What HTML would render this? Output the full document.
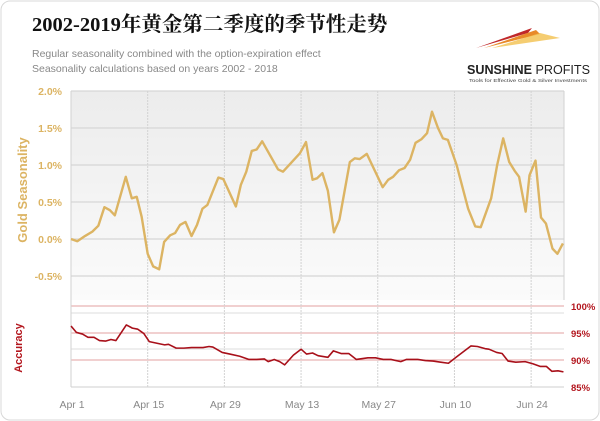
<!DOCTYPE html>
<html><head><meta charset="utf-8"><style>
html,body{margin:0;padding:0;background:#fff;}
svg{display:block;font-family:"Liberation Sans",sans-serif;}
</style></head><body>
<svg width="600" height="421" viewBox="0 0 600 421">
<defs><linearGradient id="bg" x1="0" y1="0" x2="0" y2="1"><stop offset="0" stop-color="#ececec"/><stop offset="1" stop-color="#fbfbfb"/></linearGradient></defs>
<rect x="1" y="1" width="598" height="419" rx="9" fill="#fff" stroke="#d8d8d8"/>
<text x="32" y="31" font-family="'Liberation Serif','Noto Serif CJK SC',serif" font-size="20.5" font-weight="bold" fill="#111">2002-2019年黄金第二季度的季节性走势</text>
<text x="32" y="57" font-size="10.5" fill="#888">Regular seasonality combined with the option-expiration effect</text>
<text x="32" y="72" font-size="10.5" fill="#888">Seasonality calculations based on years 2002 - 2018</text>
<g>
<path d="M476 48 L532 28 L528 33 Z" fill="#c0282a"/>
<path d="M484 48 L536 30 L540 34 Z" fill="#e88a2a"/>
<path d="M492 48 L540 33 L560 38 Z" fill="#f2c14e" opacity="0.8"/>
<text x="467" y="74" font-size="12.5" font-weight="bold" fill="#222" textLength="123" lengthAdjust="spacingAndGlyphs">SUNSHINE <tspan font-weight="normal">PROFITS</tspan></text>
<text x="469" y="82" font-size="4.6" fill="#444" textLength="118" lengthAdjust="spacingAndGlyphs">Tools for Effective Gold &amp; Silver Investments</text>
</g>
<rect x="71" y="91" width="493" height="209" fill="url(#bg)"/>
<g id="grid"></g>
<g id="marks"></g>
<text transform="translate(27,190) rotate(-90)" text-anchor="middle" font-size="13" font-weight="bold" fill="#dcb463">Gold Seasonality</text>
<text transform="translate(22,348) rotate(-90)" text-anchor="middle" font-size="11" font-weight="bold" fill="#b3161e">Accuracy</text>
</svg>
<script>
const xTickLabels=["Apr 1","Apr 15","Apr 29","May 13","May 27","Jun 10","Jun 24"];
const xTickDays=[0,14,28,42,56,70,84];
const seasTicks=[2.0,1.5,1.0,0.5,0.0,-0.5];
const seasTickLabels=["2.0%","1.5%","1.0%","0.5%","0.0%","-0.5%"];
const accTicks=[100,95,90,85];
const accTickLabels=["100%","95%","90%","85%"];
const goldDays=[0,1.15,2.55,3.9,5,6.1,7.1,8,10,11.1,12,12.9,14,15,16.1,17,18.1,19,19.9,20.9,22,23,24,24.9,26.9,27.8,30.1,31,32,33,33.9,34.9,37.8,38.7,41.8,42.9,44.1,44.9,45.9,46.9,48,49,50.9,51.8,52.7,54,56.9,57.9,58.8,59.9,60.9,61.9,62.9,64,65,65.9,67,67.9,68.8,70.4,72.5,73.8,74.8,76.7,77.8,78.9,80,81,81.8,83,83.7,84.8,85.8,86.7,87.9,88.8,89.8];
const goldValues=[0,-0.03,0.04,0.1,0.18,0.43,0.39,0.32,0.84,0.55,0.57,0.3,-0.2,-0.37,-0.41,-0.04,0.05,0.08,0.19,0.23,0.04,0.19,0.41,0.46,0.83,0.81,0.44,0.73,0.91,1.19,1.21,1.32,0.94,0.91,1.16,1.31,0.8,0.82,0.89,0.65,0.09,0.26,1.04,1.09,1.08,1.15,0.7,0.8,0.84,0.93,0.96,1.07,1.3,1.35,1.43,1.72,1.5,1.36,1.34,1.0,0.41,0.17,0.16,0.55,1.0,1.36,1.04,0.92,0.84,0.37,0.86,1.06,0.29,0.21,-0.13,-0.2,-0.06];
const accDays=[0,1,2.1,3.1,4.2,5.2,6.3,7.3,8.2,10.1,11.2,12.2,13.3,14.3,15.7,17.1,17.8,19.2,20.6,22,23.4,24.1,25.2,25.9,27.6,29,30.8,32.5,33.9,35.3,36,37.1,38.1,39,40.6,42,43,44.1,45.1,46.9,47.9,49.3,50.7,52.1,54.2,55.6,57,58.4,60.2,61.2,63.3,64.7,66.1,67.5,68.9,70.3,73,74.2,75.6,76.3,77.7,78.7,79.8,81.2,82.9,84.3,85.7,86.8,87.8,88.9,89.9];
const accValues=[96.3,95.1,94.8,94.2,94.2,93.6,93.5,93.8,93.6,96.5,95.9,95.7,94.9,93.4,93.1,92.8,92.9,92.2,92.2,92.3,92.3,92.3,92.5,92.4,91.4,91.1,90.7,90.1,90.1,90.2,89.7,90.1,89.7,89.1,90.9,92.0,91.1,91.3,90.8,90.5,91.7,91.2,91.2,90.1,90.4,90.4,90.1,90.1,89.7,90.1,90.1,89.9,89.8,89.6,89.4,90.5,92.6,92.5,92.1,92.0,91.4,91.2,89.8,89.6,89.7,89.3,88.8,88.8,87.9,88.0,87.8];
const NS="http://www.w3.org/2000/svg";
const X0=71,X1=564,DMAX=90;
const xs=d=>X0+d/DMAX*(X1-X0);
const ys=v=>239-v/0.5*37;
const ya=v=>306+(100-v)/5*27;
const grid=document.getElementById('grid'),marks=document.getElementById('marks');
function mk(tag,attrs,parent){const e=document.createElementNS(NS,tag);for(const k in attrs)e.setAttribute(k,attrs[k]);parent.appendChild(e);return e;}
seasTicks.forEach((t,i)=>{
 const l=mk('line',{x1:X0,x2:X1,y1:ys(t),y2:ys(t),stroke:'#d6d6d6','stroke-width':1.2},grid);
 
 
 const tx=mk('text',{x:62,y:ys(t)+4,'text-anchor':'end','font-size':10.5,'font-weight':'bold',fill:'#dcb463'},grid);
 tx.textContent=seasTickLabels[i];
 
 
});
[313,349].forEach(y=>{const l=mk('line',{x1:X0,x2:X1,y1:y,y2:y,stroke:'#dedede'},grid);
 
 });
accTicks.forEach((t,i)=>{
 const l=mk('line',{x1:X0,x2:X1,y1:ya(t),y2:ya(t),stroke:t==85?'#cfcfcf':'#e3a0a0','stroke-width':1},grid);
 
 
 const tx=mk('text',{x:571,y:ya(t)+4,'font-size':9.5,'font-weight':'bold',fill:'#b3161e'},grid);
 tx.textContent=accTickLabels[i];
 
 
});
xTickDays.forEach((d,i)=>{
 const l=mk('line',{x1:xs(d),x2:xs(d),y1:91,y2:387,stroke:'#d2d2d2','stroke-dasharray':d==0?'':'2,1'},grid);
 
 
 const tx=mk('text',{x:xs(d)+1,y:408,'text-anchor':'middle','font-size':10.5,fill:'#888'},grid);
 tx.textContent=xTickLabels[i];
 
 
});
const r=mk('line',{x1:X1,x2:X1,y1:91,y2:300,stroke:'#d2d2d2'},grid);


const g=mk('polyline',{points:goldDays.map((d,i)=>xs(d)+','+ys(goldValues[i])).join(' '),fill:'none',stroke:'#dcb463','stroke-width':2.4,'stroke-linejoin':'round'},marks);


const a=mk('polyline',{points:accDays.map((d,i)=>xs(d)+','+ya(accValues[i])).join(' '),fill:'none',stroke:'#a8101a','stroke-width':1.6,'stroke-linejoin':'round'},marks);


</script>
</body></html>
